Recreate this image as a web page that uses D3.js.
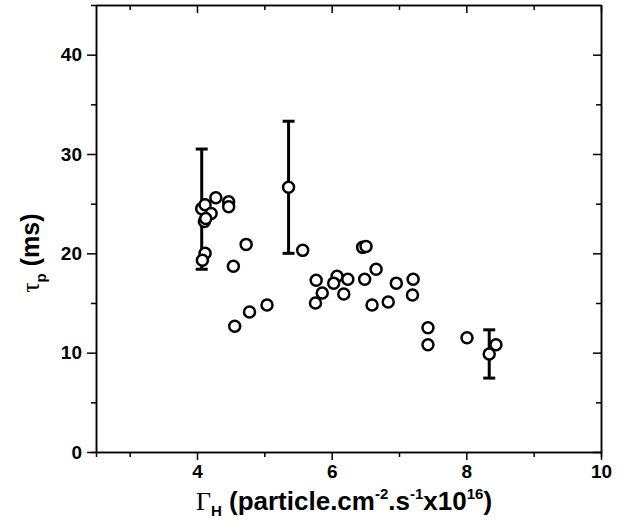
<!DOCTYPE html>
<html>
<head>
<meta charset="utf-8">
<script src="https://cdn.jsdelivr.net/npm/d3@7"></script>
<style>
  body { margin: 0; background: #fff; }
  .tick text { font-family: "Liberation Sans", Arial, sans-serif; font-weight: bold; font-size: 19px; }
  .axis path, .axis line { stroke: #000; stroke-width: 1.5; }
</style>
</head>
<body>
<svg class="chart"></svg>
<script>
// particle flux (x10^16) and confinement time (ms)
var fluxVals = [4.07, 4.12, 4.28, 4.47, 4.47, 4.21, 4.11, 4.13, 4.12, 4.08, 4.73, 4.54,
  4.56, 4.78, 5.04, 5.36, 5.57, 6.46, 6.51, 6.66, 5.77, 6.08, 6.24, 6.03, 6.49,
  5.86, 6.18, 5.76, 6.96, 7.21, 7.20, 6.60, 6.84, 7.43, 7.43, 8.01, 8.34, 8.44];
var tauVals = [24.5, 24.9, 25.6, 25.2, 24.7, 24.0, 23.2, 23.5, 20.0, 19.3, 20.9, 18.7,
  12.65, 14.1, 14.8, 26.65, 20.3, 20.6, 20.7, 18.4, 17.3, 17.7, 17.4, 17.0, 17.4,
  16.0, 15.9, 15.0, 17.0, 17.4, 15.8, 14.8, 15.1, 12.5, 10.8, 11.5, 9.87, 10.8];

// error bars
var errFlux = [4.07, 5.36, 8.34];
var errTau = [24.45, 26.65, 9.87];
var errSize = [6.05, 6.65, 2.43];

var xMajor = [4, 6, 8, 10];
var xMinor = [3, 5, 7, 9];
var yMajor = [0, 10, 20, 30, 40];
var yMinor = [5, 15, 25, 35];

var margin = {top: 5, right: 23, bottom: 74, left: 96},
  width = 624 - margin.left - margin.right,
  height = 526 - margin.top - margin.bottom;

var x = d3.scaleLinear().domain([2.5, 10]).range([0, width]);
var y = d3.scaleLinear().domain([0, 45]).range([height, 0]);

var svg = d3.select('.chart')
  .attr('width', 624)
  .attr('height', 526);

var chart = svg.append('g')
  .attr('transform', 'translate(' + margin.left + ',' + margin.top + ')');

// minor ticks first, then majors with labels
chart.append('g').attr('class', 'axis')
  .attr('transform', 'translate(0,' + height + ')')
  .call(d3.axisBottom(x).tickValues(xMinor).tickSize(5).tickFormat(''));
chart.append('g').attr('class', 'axis')
  .attr('transform', 'translate(0,' + height + ')')
  .call(d3.axisBottom(x).tickValues(xMajor).tickSize(8).tickSizeOuter(0).tickPadding(5).tickFormat(d3.format('d')));

chart.append('g').attr('class', 'axis')
  .call(d3.axisLeft(y).tickValues(yMinor).tickSize(5).tickFormat(''));
chart.append('g').attr('class', 'axis')
  .call(d3.axisLeft(y).tickValues(yMajor).tickSize(9).tickSizeOuter(0).tickPadding(5).tickFormat(d3.format('d')));

// mirrored axes with inward ticks
chart.append('g').attr('class', 'axis')
  .call(d3.axisTop(x).tickValues(xMinor).tickSize(-5).tickSizeOuter(0).tickFormat(''));
chart.append('g').attr('class', 'axis')
  .call(d3.axisTop(x).tickValues(xMajor).tickSize(-8).tickSizeOuter(0).tickFormat(''));
chart.append('g').attr('class', 'axis')
  .attr('transform', 'translate(' + width + ',0)')
  .call(d3.axisRight(y).tickValues(yMinor).tickSize(-5).tickSizeOuter(0).tickFormat(''));
chart.append('g').attr('class', 'axis')
  .attr('transform', 'translate(' + width + ',0)')
  .call(d3.axisRight(y).tickValues(yMajor).tickSize(-8).tickSizeOuter(0).tickFormat(''));

// error bars
var errs = chart.append('g').selectAll('g')
  .data(errFlux.map(function(d, i) { return {x: d, y: errTau[i], e: errSize[i]}; }))
  .enter().append('g')
  .attr('stroke', '#000')
  .attr('stroke-width', 3);

errs.append('line')
  .attr('x1', function(d) { return x(d.x); })
  .attr('x2', function(d) { return x(d.x); })
  .attr('y1', function(d) { return y(d.y - d.e); })
  .attr('y2', function(d) { return y(d.y + d.e); });
errs.append('line')
  .attr('x1', function(d) { return x(d.x) - 6; })
  .attr('x2', function(d) { return x(d.x) + 6; })
  .attr('y1', function(d) { return y(d.y - d.e); })
  .attr('y2', function(d) { return y(d.y - d.e); });
errs.append('line')
  .attr('x1', function(d) { return x(d.x) - 6; })
  .attr('x2', function(d) { return x(d.x) + 6; })
  .attr('y1', function(d) { return y(d.y + d.e); })
  .attr('y2', function(d) { return y(d.y + d.e); });

// points
chart.selectAll('circle.pt')
  .data(fluxVals.map(function(d, i) { return {x: d, y: tauVals[i]}; }))
  .enter()
  .append('circle')
  .attr('class', 'pt')
  .attr('cx', function(d) { return x(d.x); })
  .attr('cy', function(d) { return y(d.y); })
  .attr('r', 5.5)
  .attr('fill', '#fff')
  .attr('stroke', '#000')
  .attr('stroke-width', 2.5);

// axis titles
var xt = svg.append('text')
  .attr('x', 344)
  .attr('y', 510)
  .attr('text-anchor', 'middle')
  .style('font-family', '"Liberation Sans", Arial, sans-serif')
  .style('font-weight', 'bold')
  .style('font-size', '26px');
xt.append('tspan').style('font-family', '"Liberation Serif", serif').style('font-weight', 'normal').text('Γ');
xt.append('tspan').attr('dy', 6).style('font-size', '15px').text('H');
xt.append('tspan').attr('dy', -6).text(' (particle.cm');
xt.append('tspan').attr('dy', -11).style('font-size', '15px').text('-2');
xt.append('tspan').attr('dy', 11).text('.s');
xt.append('tspan').attr('dy', -11).style('font-size', '15px').text('-1');
xt.append('tspan').attr('dy', 11).text('x10');
xt.append('tspan').attr('dy', -11).style('font-size', '15px').text('16');
xt.append('tspan').attr('dy', 11).text(')');

var yt = svg.append('text')
  .attr('transform', 'translate(39,253) rotate(-90)')
  .attr('text-anchor', 'middle')
  .style('font-family', '"Liberation Sans", Arial, sans-serif')
  .style('font-weight', 'bold')
  .style('font-size', '25px');
yt.append('tspan').style('font-family', '"Liberation Serif", serif').style('font-weight', 'normal').text('τ');
yt.append('tspan').attr('dy', 7).style('font-size', '15px').text('p');
yt.append('tspan').attr('dy', -7).text(' (ms)');
</script>
</body>
</html>
